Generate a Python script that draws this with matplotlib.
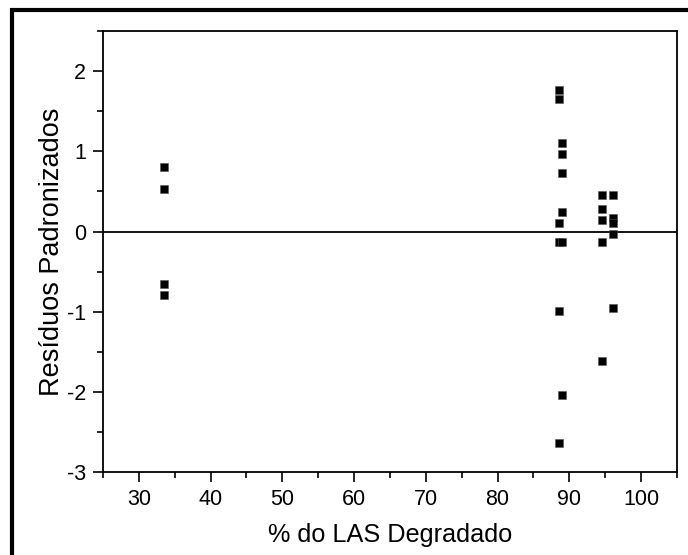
# Standardized residuals vs. % LAS degraded

import numpy as np
import matplotlib.pyplot as plt
from matplotlib.patches import Rectangle

plt.rcParams['font.family'] = ['Liberation Sans', 'DejaVu Sans']
plt.rcParams['axes.unicode_minus'] = False

# degradation (%) and standardized residual for each run
las_pct = [33.5, 33.5, 33.5, 33.5,
           88.6, 88.6, 88.6, 88.6, 88.6, 88.6,
           89.0, 89.0, 89.0, 89.0, 89.0, 89.0,
           94.6, 94.6, 94.6, 94.6, 94.6,
           96.1, 96.1, 96.1, 96.1, 96.1]
residuals = [0.81, 0.53, -0.65, -0.79,
             1.77, 1.65, 0.10, -0.13, -0.99, -2.64,
             1.11, 0.97, 0.73, 0.24, -0.13, -2.04,
             0.46, 0.28, 0.14, -0.13, -1.62,
             0.46, 0.17, 0.10, -0.03, -0.95]

x_ticks = [30, 40, 50, 60, 70, 80, 90, 100]
y_ticks = [-3, -2, -1, 0, 1, 2]

fig = plt.figure(figsize=(6.88, 5.55), dpi=100)
ax = fig.add_axes([0.1497, 0.1495, 0.8343, 0.7945])

ax.axhline(0, color='black', lw=1.3, zorder=1)
ax.plot(las_pct, residuals, 's', color='black', ms=6, mec='#555555', mew=0.4, zorder=3)

ax.set_xlim(25, 105)
ax.set_ylim(-3, 2.5)
ax.set_xticks(x_ticks)
ax.set_yticks(y_ticks)
ax.set_xticks(np.arange(25, 106, 5), minor=True)
ax.set_yticks(np.arange(-3, 2.51, 0.5), minor=True)
ax.tick_params(which='major', direction='out', length=7, width=1.2, labelsize=15.5, pad=5)
ax.tick_params(which='minor', direction='out', length=4, width=1.2)
for s in ax.spines.values():
    s.set_linewidth(1.3)

ax.set_xlabel('% do LAS Degradado', fontsize=18.2, va='center')
ax.set_ylabel('Resíduos Padronizados', fontsize=19.5, va='center')
ax.xaxis.set_label_coords(0.5, -0.143)
ax.yaxis.set_label_coords(-0.088, 0.5)

# heavy frame around the figure
fig.patches.append(Rectangle((12 / 688, -0.05), 1.2, 1 - 10 / 555 + 0.05,
                             transform=fig.transFigure, fill=False,
                             edgecolor='black', lw=3, zorder=0))

fig.savefig('out.png', dpi=100)
